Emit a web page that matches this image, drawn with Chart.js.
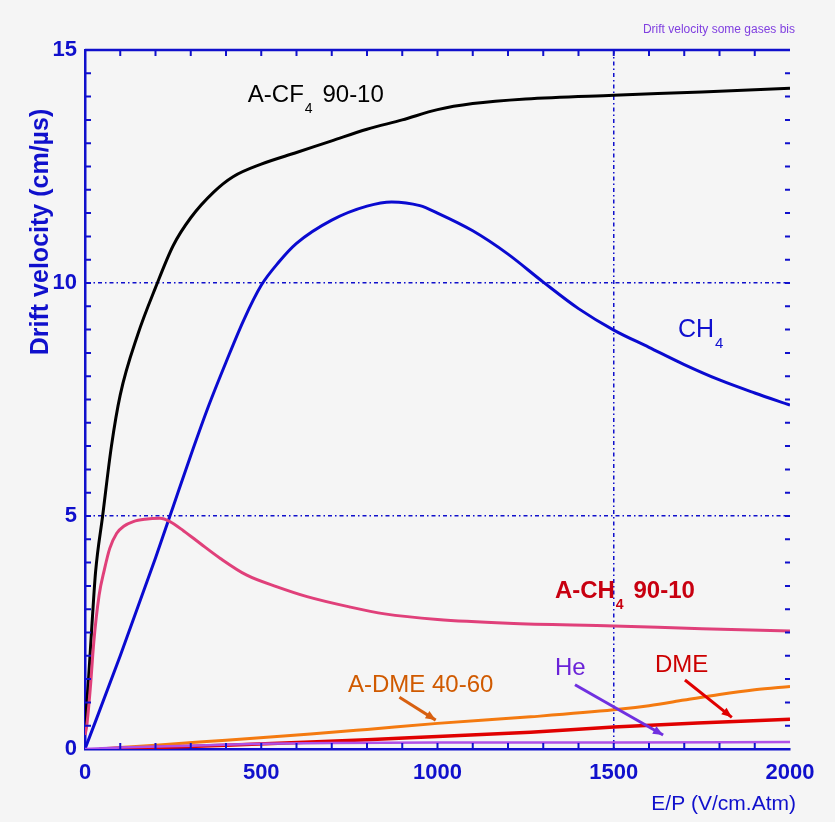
<!DOCTYPE html>
<html>
<head>
<meta charset="utf-8">
<script src="https://cdn.jsdelivr.net/npm/chart.js@4/dist/chart.umd.min.js"></script>
<style>
  html, body { margin: 0; padding: 0; background: #f5f5f5; }
  #wrap { width: 835px; height: 822px; }
</style>
</head>
<body>
<div id="wrap"><canvas id="drift"></canvas></div>
<script>
"use strict";

// E/P (V/cm.Atm) and drift velocity (cm/us)
const acf4E = [0, 10, 20, 30, 50, 75, 100, 150, 200, 250, 300, 365, 420, 500, 600, 700, 800, 900, 1000, 1100, 1250, 1500, 1750, 2000];
const acf4V = [0.45, 1.5, 2.7, 3.8, 5.0, 6.5, 7.6, 8.9, 9.9, 10.8, 11.4, 11.95, 12.28, 12.55, 12.8, 13.05, 13.3, 13.5, 13.72, 13.85, 13.95, 14.03, 14.1, 14.18];

const ch4E = [0, 100, 200, 250, 300, 350, 400, 450, 500, 550, 600, 700, 800, 870, 950, 1000, 1100, 1200, 1300, 1400, 1500, 1600, 1700, 1800, 1900, 2000];
const ch4V = [0, 2.0, 4.1, 5.2, 6.3, 7.35, 8.3, 9.2, 9.95, 10.45, 10.85, 11.35, 11.65, 11.74, 11.66, 11.5, 11.12, 10.62, 10.02, 9.45, 8.99, 8.62, 8.25, 7.92, 7.64, 7.38];

const ach4E = [0, 5, 15, 25, 40, 55, 70, 90, 110, 137, 170, 213, 241, 280, 327, 384, 459, 545, 630, 750, 850, 1000, 1200, 1500, 1750, 2000];
const ach4V = [0.3, 0.5, 1.3, 2.3, 3.3, 3.85, 4.3, 4.63, 4.78, 4.88, 4.93, 4.95, 4.88, 4.68, 4.41, 4.09, 3.73, 3.48, 3.27, 3.05, 2.9, 2.78, 2.7, 2.64, 2.58, 2.53];

const admeE = [40, 100, 200, 400, 640, 800, 1000, 1264, 1500, 1600, 1700, 1800, 1900, 2000];
const admeV = [0, 0.03, 0.08, 0.19, 0.32, 0.42, 0.55, 0.69, 0.84, 0.93, 1.05, 1.17, 1.27, 1.34];

const dmeE = [50, 200, 400, 640, 800, 1000, 1264, 1500, 1738, 2000];
const dmeV = [0, 0.03, 0.08, 0.15, 0.2, 0.27, 0.36, 0.47, 0.56, 0.64];

const heE = [0, 100, 300, 500, 700, 1000, 1500, 2000];
const heV = [0, 0.03, 0.07, 0.11, 0.13, 0.14, 0.14, 0.15];

const yTicks = [0, 5, 10, 15];
const xTicks = [0, 500, 1000, 1500, 2000];
const gridY = [5, 10];
const gridX = [1500];

const axisBlue = "#1010cc";
const font = "'Liberation Sans', Arial, sans-serif";

let toPoints = (xs, ys) => xs.map((x, i) => ({x: x, y: ys[i]}));

let makeSet = (label, xs, ys, color, width) => ({
  label: label,
  data: toPoints(xs, ys),
  borderColor: color,
  backgroundColor: color,
  borderWidth: width,
  pointRadius: 0,
  fill: false,
  cubicInterpolationMode: "monotone"
});

// text with a subscript, drawn at data coordinates
function drawSubText(ctx, x, y, main, sub, rest, size, color, weight) {
  ctx.fillStyle = color;
  ctx.textBaseline = "alphabetic";
  ctx.textAlign = "left";
  ctx.font = `${weight} ${size}px ${font}`;
  ctx.fillText(main, x, y);
  let w = ctx.measureText(main).width;
  ctx.font = `${weight} ${Math.round(size * 0.6)}px ${font}`;
  ctx.fillText(sub, x + w + 1, y + size * 0.45);
  let ws = ctx.measureText(sub).width;
  if (rest) {
    ctx.font = `${weight} ${size}px ${font}`;
    ctx.fillText(rest, x + w + ws + size * 0.45, y);
  }
}

function drawArrow(ctx, x1, y1, x2, y2, color) {
  ctx.strokeStyle = color;
  ctx.fillStyle = color;
  ctx.lineWidth = 3;
  ctx.beginPath();
  ctx.moveTo(x1, y1);
  ctx.lineTo(x2, y2);
  ctx.stroke();
  let a = Math.atan2(y2 - y1, x2 - x1);
  let len = 11;
  ctx.beginPath();
  ctx.moveTo(x2, y2);
  ctx.lineTo(x2 - len * Math.cos(a - 0.4), y2 - len * Math.sin(a - 0.4));
  ctx.lineTo(x2 - len * Math.cos(a + 0.4), y2 - len * Math.sin(a + 0.4));
  ctx.closePath();
  ctx.fill();
}

const decorations = {
  id: "decorations",
  afterDraw(chart) {
    let ctx = chart.ctx;
    let xs = chart.scales.x;
    let ys = chart.scales.y;
    let area = chart.chartArea;
    let px = v => xs.getPixelForValue(v);
    let py = v => ys.getPixelForValue(v);
    ctx.save();

    // top frame line
    ctx.strokeStyle = axisBlue;
    ctx.lineWidth = 2.5;
    ctx.beginPath();
    ctx.moveTo(area.left, area.top);
    ctx.lineTo(area.right, area.top);
    ctx.stroke();

    // inner minor ticks
    ctx.lineWidth = 2;
    for (let v = 0.5; v < 15; v += 0.5) {
      let y = py(v);
      ctx.beginPath();
      ctx.moveTo(area.left, y);
      ctx.lineTo(area.left + 6, y);
      ctx.moveTo(area.right - 5, y);
      ctx.lineTo(area.right, y);
      ctx.stroke();
    }
    for (let v = 100; v < 2000; v += 100) {
      let x = px(v);
      ctx.beginPath();
      ctx.moveTo(x, area.bottom);
      ctx.lineTo(x, area.bottom - 6);
      ctx.moveTo(x, area.top);
      ctx.lineTo(x, area.top + 6);
      ctx.stroke();
    }

    // curve labels
    drawSubText(ctx, px(462), py(13.88), "A-CF", "4", "90-10", 24, "#000000", "normal");
    drawSubText(ctx, px(1682), py(8.84), "CH", "4", "", 25, "#1010d0", "normal");
    drawSubText(ctx, px(1333), py(3.24), "A-CH", "4", "90-10", 24, "#c80010", "bold");

    ctx.font = `normal 24px ${font}`;
    ctx.fillStyle = "#d05a00";
    ctx.fillText("A-DME 40-60", px(746), py(1.22));
    ctx.fillStyle = "#6a22d8";
    ctx.fillText("He", px(1333), py(1.59));
    ctx.fillStyle = "#cc0000";
    ctx.fillText("DME", px(1617), py(1.65));

    drawArrow(ctx, px(892), py(1.11), px(995), py(0.62), "#d86010");
    drawArrow(ctx, px(1390), py(1.38), px(1640), py(0.30), "#7030e0");
    drawArrow(ctx, px(1702), py(1.48), px(1835), py(0.68), "#e00000");

    // top right caption
    ctx.font = `normal 12px ${font}`;
    ctx.fillStyle = "#8040e0";
    ctx.textAlign = "right";
    ctx.fillText("Drift velocity some gases bis", 795, 33);

    // axis titles
    ctx.fillStyle = axisBlue;
    ctx.font = `normal 21px ${font}`;
    ctx.textAlign = "right";
    ctx.fillText("E/P (V/cm.Atm)", 796, 810);

    ctx.translate(48, 232);
    ctx.rotate(-Math.PI / 2);
    ctx.textAlign = "center";
    ctx.font = `bold 25px ${font}`;
    ctx.fillText("Drift velocity (cm/\u00b5s)", 0, 0);

    ctx.restore();
  }
};

let gridColor = list => c => list.includes(c.tick.value) ? axisBlue : "rgba(0,0,0,0)";

new Chart(document.querySelector("#drift"), {
  type: "line",
  data: {
    datasets: [
      makeSet("He", heE, heV, "#b050e8", 2.5),
      makeSet("DME", dmeE, dmeV, "#e00000", 3.5),
      makeSet("A-DME 40-60", admeE, admeV, "#f47a10", 3),
      makeSet("A-CH4 90-10", ach4E, ach4V, "#e0407a", 3),
      makeSet("CH4", ch4E, ch4V, "#0a0ad0", 3),
      makeSet("A-CF4 90-10", acf4E, acf4V, "#000000", 3)
    ]
  },
  options: {
    responsive: true,
    maintainAspectRatio: false,
    animation: false,
    layout: { padding: { left: 0, top: 50, right: 45, bottom: 0 } },
    plugins: {
      legend: { display: false },
      tooltip: { enabled: false }
    },
    scales: {
      x: {
        type: "linear",
        min: 0,
        max: 2000,
        afterFit: scale => { scale.height = 73; },
        afterBuildTicks: scale => { scale.ticks = xTicks.map(v => ({value: v})); },
        ticks: {
          color: axisBlue,
          padding: 11,
          font: { family: font, size: 22, weight: "bold" },
          callback: v => String(v)
        },
        grid: { color: gridColor(gridX), lineWidth: 1.5, drawTicks: false },
        border: { color: axisBlue, width: 2.5, dash: [4, 3, 1.5, 3] }
      },
      y: {
        type: "linear",
        min: 0,
        max: 15,
        afterFit: scale => { scale.width = 85; },
        afterBuildTicks: scale => { scale.ticks = yTicks.map(v => ({value: v})); },
        ticks: {
          color: axisBlue,
          padding: 8,
          font: { family: font, size: 22, weight: "bold" },
          callback: v => String(v)
        },
        grid: { color: gridColor(gridY), lineWidth: 1.5, drawTicks: false },
        border: { color: axisBlue, width: 2.5, dash: [4, 3, 1.5, 3] }
      }
    }
  },
  plugins: [decorations]
});
</script>
</body>
</html>
